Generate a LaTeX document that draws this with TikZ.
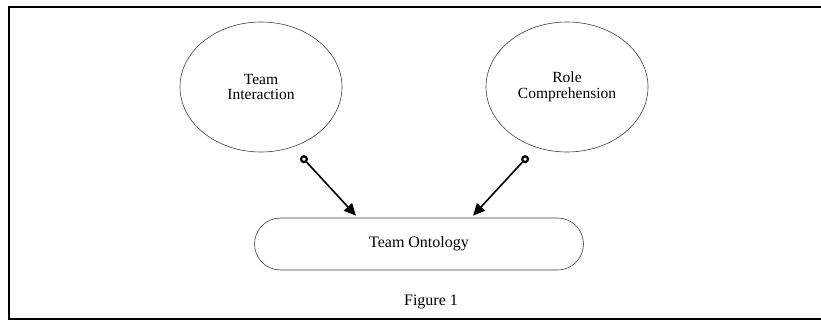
\documentclass[tikz,border=0pt]{standalone}
\usepackage{fontspec}
\setmainfont{Liberation Serif}
\usetikzlibrary{arrows.meta,shapes.geometric,shapes.misc}

\begin{document}
\begin{tikzpicture}[x=1pt,y=-1pt,
  link/.style={{Circle[open,length=8pt,width=8pt,line width=2.2pt]}-{Triangle[length=12pt,width=11pt]},
    line width=1.6pt},
  topic node/.style={ellipse,draw=black!75,line width=0.6pt,align=center,
    font=\fontsize{15.5}{15.5}\selectfont,minimum width=162pt,minimum height=130pt,inner sep=0pt},
  base node/.style={rounded rectangle,draw=black!75,line width=0.6pt,
    font=\fontsize{16}{15}\selectfont,minimum width=329pt,minimum height=52pt,inner sep=0pt},
  caption node/.style={font=\fontsize{16}{15}\selectfont,inner sep=0pt}]

  \useasboundingbox (0,0) rectangle (821,321);
  \draw[line width=2pt] (9,7) rectangle (830,319);

  \node[topic node] (Interaction) at (261,87) {Team\\Interaction};
  \node[topic node] (Role) [node distance=306pt, right of=Interaction] {Role\\Comprehension};
  \node[base node] (Ontology) at (419,244) {Team Ontology};
  \node[caption node] (Caption) [node distance=58pt, below of=Ontology, xshift=12pt] {Figure 1};

  \draw[link] ([xshift=6pt,yshift=-10pt]Interaction.-60) -- ([xshift=-63pt,yshift=2pt]Ontology.north);
  \draw[link] ([xshift=-5pt,yshift=-10pt]Role.-120) -- ([xshift=54pt,yshift=2pt]Ontology.north);
\end{tikzpicture}
\end{document}
